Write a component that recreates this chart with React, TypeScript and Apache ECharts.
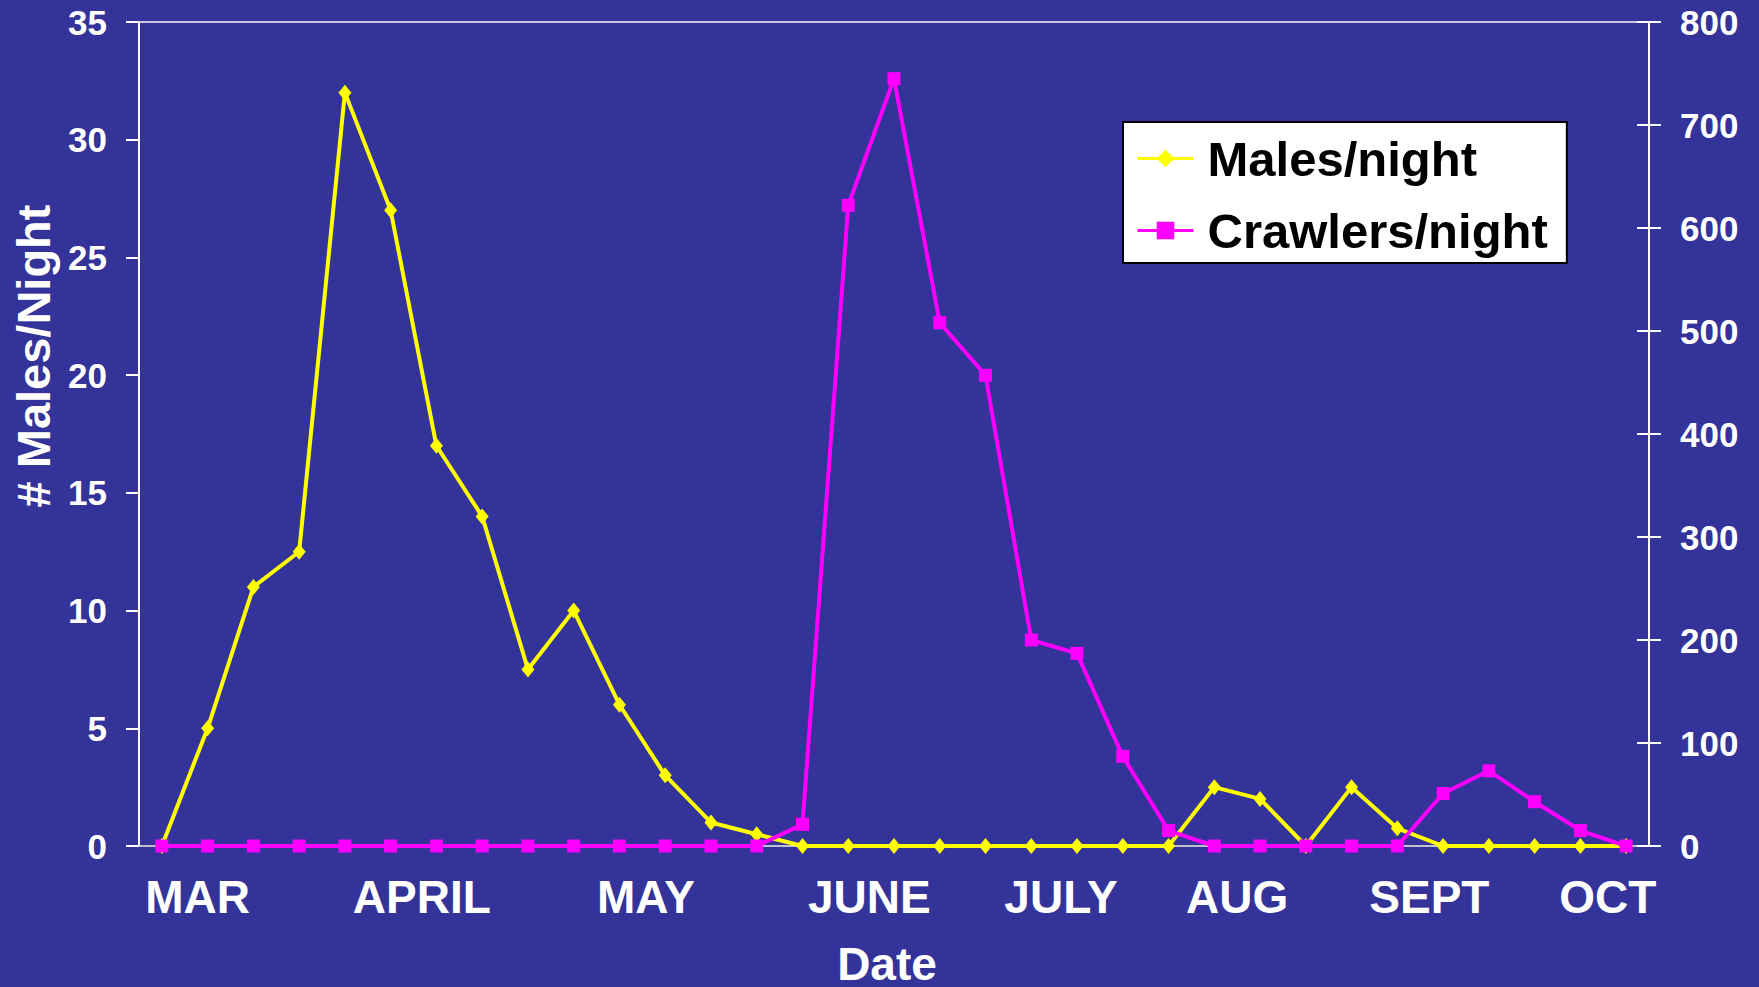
import { useEffect, useRef } from "react";
import * as echarts from "echarts";

const categories = [
  "W1", "W2", "W3", "W4", "W5", "W6", "W7", "W8", "W9", "W10", "W11",
  "W12", "W13", "W14", "W15", "W16", "W17", "W18", "W19", "W20", "W21", "W22",
  "W23", "W24", "W25", "W26", "W27", "W28", "W29", "W30", "W31", "W32", "W33",
];
const malesPerNight = [
  0, 5, 11, 12.5, 32, 27, 17, 14, 7.5, 10, 6, 3, 1, 0.5, 0, 0, 0, 0, 0, 0, 0, 0,
  0, 2.5, 2, 0, 2.5, 0.75, 0, 0, 0, 0, 0,
];
const crawlersPerNight = [
  0, 0, 0, 0, 0, 0, 0, 0, 0, 0, 0, 0, 0, 0, 21, 622, 745, 508, 457, 200, 187, 87,
  15, 0, 0, 0, 0, 0, 51, 73, 43, 15, 0,
];
const monthNames = ["MAR", "APRIL", "MAY", "JUNE", "JULY", "AUG", "SEPT", "OCT"];
const monthPositions = [0.78, 5.68, 10.58, 15.46, 19.65, 23.5, 27.7, 31.6];
const leftAxis = { min: 0, max: 35, interval: 5 };
const rightAxis = { min: 0, max: 800, interval: 100 };

const FONT = "'Liberation Sans', Arial, Helvetica, sans-serif";

export default function App() {
  const ref = useRef<HTMLDivElement>(null);
  useEffect(() => {
    if (!ref.current) return;
    const chart = echarts.init(ref.current, undefined, { renderer: "svg" });
    const white = "#ffffff";
    chart.setOption({
      animation: false,
      backgroundColor: "#333399",
      textStyle: { fontFamily: FONT },
      grid: {
        left: 139,
        right: 110,
        top: 22,
        bottom: 141,
        show: true,
        borderColor: "#c8c8e4",
        borderWidth: 2,
        backgroundColor: "transparent",
      },
      legend: {
        orient: "vertical",
        left: 1123,
        top: 122,
        backgroundColor: "#ffffff",
        borderColor: "#000000",
        borderWidth: 2,
        borderRadius: 0,
        padding: [9, 19, 5, 13],
        itemWidth: 56,
        itemHeight: 22,
        itemGap: 17,
        lineStyle: { width: 3 },
        textStyle: {
          fontFamily: FONT,
          fontSize: 49,
          fontWeight: "bold",
          color: "#000000",
          lineHeight: 55,
          padding: [0, 0, 0, 9],
        },
        data: ["Males/night", "Crawlers/night"],
      },
      xAxis: [
        {
          type: "category",
          data: categories,
          boundaryGap: true,
          axisLine: { show: true, onZero: false, lineStyle: { color: "#c0c0d0", width: 2 } },
          axisTick: { show: false },
          axisLabel: { show: false },
          splitLine: { show: false },
        },
        {
          type: "value",
          min: -0.5,
          max: categories.length - 0.5,
          position: "bottom",
          axisLine: { show: false, onZero: false },
          axisTick: { show: false },
          splitLine: { show: false },
          axisLabel: {
            customValues: monthPositions,
            margin: 28,
            color: white,
            fontFamily: FONT,
            fontSize: 46,
            fontWeight: "bold",
            formatter: (v: number) => {
              let best = 0;
              for (let i = 0; i < monthPositions.length; i++) {
                if (Math.abs(monthPositions[i] - v) < Math.abs(monthPositions[best] - v)) best = i;
              }
              return monthNames[best];
            },
          },
        },
      ],
      yAxis: [
        {
          type: "value",
          position: "left",
          ...leftAxis,
          axisLine: { show: true, onZero: false, lineStyle: { color: white, width: 2 } },
          axisTick: { show: true, length: 13, lineStyle: { color: white, width: 2 } },
          axisLabel: {
            color: white,
            fontFamily: FONT,
            fontSize: 35,
            fontWeight: "bold",
            margin: 32,
          },
          splitLine: { show: false },
        },
        {
          type: "value",
          position: "right",
          ...rightAxis,
          axisLine: { show: true, onZero: false, lineStyle: { color: white, width: 2 } },
          axisTick: { show: true, length: 12, lineStyle: { color: white, width: 2 } },
          axisLabel: {
            color: white,
            fontFamily: FONT,
            fontSize: 35,
            fontWeight: "bold",
            margin: 31,
          },
          splitLine: { show: false },
        },
        {
          type: "value",
          position: "right",
          ...rightAxis,
          axisLine: { show: false, onZero: false },
          axisTick: { show: true, inside: true, length: 12, lineStyle: { color: white, width: 2 } },
          axisLabel: { show: false },
          splitLine: { show: false },
        },
      ],
      graphic: [
        {
          type: "text",
          x: 33.5,
          y: 356,
          rotation: Math.PI / 2,
          style: {
            text: "# Males/Night",
            font: `bold 47px ${FONT}`,
            fill: white,
            textAlign: "center",
            textVerticalAlign: "middle",
          },
        },
        {
          type: "text",
          x: 887,
          y: 964,
          style: {
            text: "Date",
            font: `bold 46px ${FONT}`,
            fill: white,
            textAlign: "center",
            textVerticalAlign: "middle",
          },
        },
      ],
      series: [
        {
          name: "Males/night",
          type: "line",
          xAxisIndex: 0,
          yAxisIndex: 0,
          data: malesPerNight,
          symbol: "diamond",
          symbolSize: [13, 16],
          lineStyle: { color: "#ffff00", width: 4 },
          itemStyle: { color: "#ffff00" },
          z: 3,
        },
        {
          name: "Crawlers/night",
          type: "line",
          xAxisIndex: 0,
          yAxisIndex: 1,
          data: crawlersPerNight,
          symbol: "rect",
          symbolSize: 13,
          lineStyle: { color: "#ff00ff", width: 4 },
          itemStyle: { color: "#ff00ff" },
          z: 4,
        },
      ],
    });
    return () => chart.dispose();
  }, []);
  return (
    <div
      ref={ref}
      style={{ position: "fixed", left: 0, top: 0, width: 1759, height: 987 }}
    />
  );
}
